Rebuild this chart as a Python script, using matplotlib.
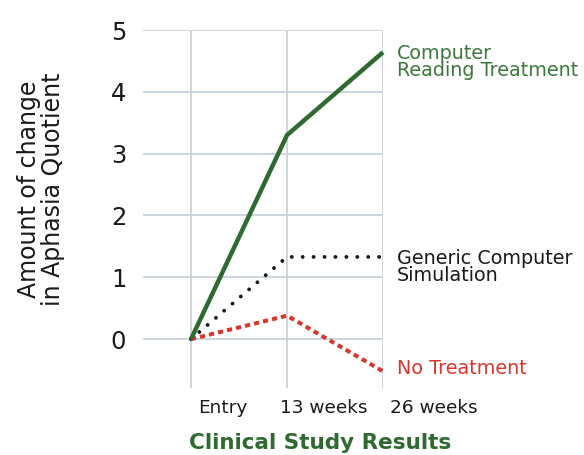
import matplotlib.pyplot as plt
import matplotlib.transforms as mtransforms
import numpy as np

plt.rcParams['font.family'] = ['DejaVu Sans']

# data
timepoints = ['Entry', '13 weeks', '26 weeks']
reading_treatment = [0, 3.30, 4.64]
generic_simulation = [0, 1.33, 1.33]
no_treatment = [0, 0.38, -0.52]
yticks = [0, 1, 2, 3, 4, 5]

green = '#2f6a31'
red = '#d7372c'
grid_col = '#c9d2dd'

fig = plt.figure(figsize=(5.84, 4.55), dpi=100)
ax = fig.add_axes([143/584, 1-388/455, 240/584, 358/455])

x = np.arange(len(timepoints))

ax.plot(x, reading_treatment, color=green, lw=3.2, solid_capstyle='butt',
        clip_on=False, zorder=5)
ax.plot(x, generic_simulation, color='#1a1a1a', lw=2.8,
        linestyle=(0, (0.01, 2.8)), dash_capstyle='round', clip_on=False, zorder=4)
ax.plot(x, no_treatment, color=red, lw=2.9,
        linestyle=(0, (1.3, 1.0)), dash_capstyle='butt', clip_on=False, zorder=4)

# labels at line ends
ax.annotate('Computer\nReading Treatment', xy=(x[-1], reading_treatment[-1]),
            xytext=(10, -7), textcoords='offset points', color='#3b7a3d',
            fontsize=13.8, va='center', ha='left', linespacing=0.87, annotation_clip=False)
ax.annotate('Generic Computer\nSimulation', xy=(x[-1], generic_simulation[-1]),
            xytext=(10, -7), textcoords='offset points', color='#1a1a1a',
            fontsize=13.8, va='center', ha='left', linespacing=0.87, annotation_clip=False)
ax.annotate('No Treatment', xy=(x[-1], no_treatment[-1]),
            xytext=(10, 2), textcoords='offset points', color=red,
            fontsize=13.8, va='center', ha='left', annotation_clip=False)

ax.set_xlim(-0.5, 2)
ax.set_ylim(-0.79, 5)
ax.set_xticks(x)
ax.set_xticklabels(timepoints, fontsize=13.3, color='#1a1a1a', ha='left')
ax.set_yticks(yticks)
ax.set_yticklabels([str(t) for t in yticks], fontsize=17.5, color='#1a1a1a')
ax.tick_params(axis='both', length=0)
ax.tick_params(axis='y', pad=12)
ax.tick_params(axis='x', pad=8)

# nudge x tick labels (pixels)
for lab, dx in zip(ax.get_xticklabels(), [7, -7, 7]):
    lab.set_transform(lab.get_transform() + mtransforms.Affine2D().translate(dx, 0))

# grid: horizontal lines across full width, vertical at each timepoint
for t in yticks:
    ax.axhline(t, color=grid_col, lw=1.3, zorder=1)
for xi in x:
    ax.axvline(xi, ymin=0, ymax=1, color=grid_col, lw=1.3, zorder=1)

for s in ax.spines.values():
    s.set_visible(False)

fig.text(41/584, 1-189/455, 'Amount of change\nin Aphasia Quotient', rotation=90,
         ha='center', va='center', fontsize=17, color='#1a1a1a', linespacing=1.0)
fig.text(320/584, 1-443/455, 'Clinical Study Results', ha='center', va='center',
         fontsize=15.5, fontweight='bold', color='#2f6a31')

fig.savefig('out.png', dpi=100)
